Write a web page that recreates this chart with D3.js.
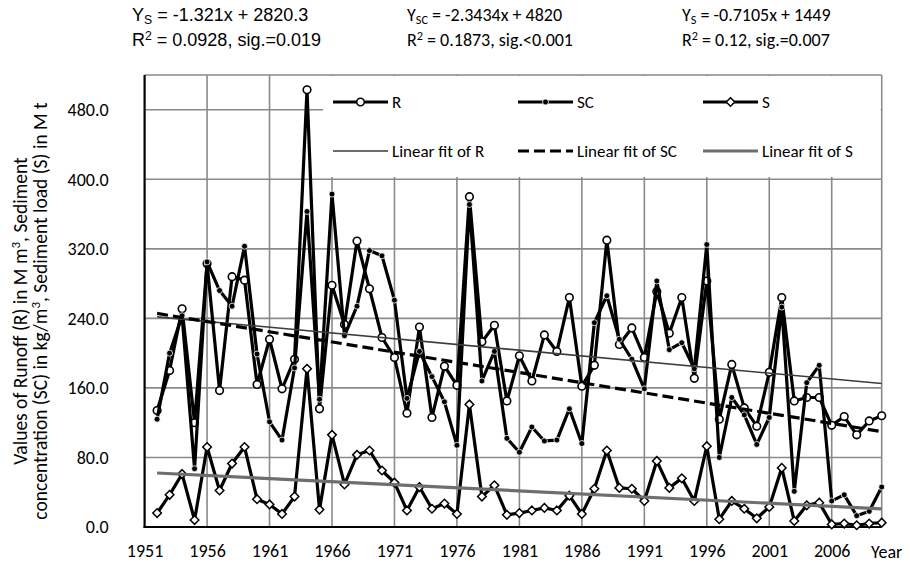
<!DOCTYPE html>
<html>
<head>
<meta charset="utf-8">
<script src="https://cdn.jsdelivr.net/npm/d3@7"></script>
<style>
  body { margin: 0; background: #fff; }
  svg text { fill: #000; }
  .cal { font-family: Carlito, Calibri, Lato, sans-serif; }
</style>
</head>
<body>
<svg id="chart" width="914" height="565"></svg>
<script>
// years 1952 - 2010
var years = [1952, 1953, 1954, 1955, 1956, 1957, 1958, 1959, 1960, 1961,
    1962, 1963, 1964, 1965, 1966, 1967, 1968, 1969, 1970, 1971,
    1972, 1973, 1974, 1975, 1976, 1977, 1978, 1979, 1980, 1981,
    1982, 1983, 1984, 1985, 1986, 1987, 1988, 1989, 1990, 1991,
    1992, 1993, 1994, 1995, 1996, 1997, 1998, 1999, 2000, 2001,
    2002, 2003, 2004, 2005, 2006, 2007, 2008, 2009, 2010];

// runoff R (M m3)
var runoff = [134, 180, 251, 120, 303, 157, 288, 284, 164, 216,
    159, 193, 503, 136, 278, 233, 329, 274, 218, 195,
    131, 230, 126, 185, 163, 380, 213, 232, 145, 197,
    168, 221, 202, 264, 162, 186, 330, 210, 229, 195,
    271, 223, 264, 171, 283, 124, 187, 137, 116, 178,
    264, 145, 149, 149, 117, 127, 106, 122, 128];

// sediment concentration SC (kg/m3)
var sedConc = [124, 200, 243, 67, 305, 272, 254, 323, 199, 121,
    100, 183, 363, 147, 383, 220, 254, 318, 312, 261,
    148, 202, 173, 144, 94, 371, 168, 202, 102, 86,
    115, 99, 100, 136, 96, 235, 266, 216, 193, 159,
    283, 204, 212, 182, 325, 80, 149, 129, 95, 126,
    253, 41, 166, 186, 30, 37, 13, 18, 46];

// sediment load S (M t)
var sedLoad = [16, 37, 61, 8, 92, 42, 73, 92, 32, 26,
    15, 35, 182, 20, 106, 49, 83, 88, 65, 51,
    19, 46, 21, 27, 15, 141, 35, 48, 14, 16,
    19, 22, 19, 36, 15, 44, 88, 45, 44, 30,
    76, 45, 56, 30, 93, 9, 30, 21, 10, 23,
    68, 7, 25, 28, 3, 4, 2, 4, 5];

// linear fits shown in the header: slope, intercept
var fitSlopes = [-1.321, -2.3434, -0.7105];
var fitIntercepts = [2820.3, 4820, 1449];

var yTicks = [0, 80, 160, 240, 320, 400, 480];
var xTicks = [1951, 1956, 1961, 1966, 1971, 1976, 1981, 1986, 1991, 1996, 2001, 2006];

var svg = d3.select("#chart");

var plotL = 144.6, plotR = 881.7, plotT = 75, plotB = 527;
var fs = "18px";

var xScale = d3.scaleLinear().domain([1951, 2010]).range([plotL, plotR]);
var yScale = d3.scaleLinear().domain([0, 520]).range([plotB, plotT]);

// grid
var grid = svg.append("g").attr("stroke", "#8a8a8a").attr("stroke-width", 1.6);
grid.selectAll(".hg")
    .data(yTicks.slice(1).concat([520]))
    .enter().append("line")
    .attr("x1", plotL).attr("x2", plotR)
    .attr("y1", function (d) { return yScale(d); })
    .attr("y2", function (d) { return yScale(d); });
grid.selectAll(".vg")
    .data(xTicks.slice(1).concat([2010]))
    .enter().append("line")
    .attr("y1", plotT).attr("y2", plotB)
    .attr("x1", function (d) { return xScale(d); })
    .attr("x2", function (d) { return xScale(d); });

// legend background covers the grid
var lgX = 323, lgY = 76;
svg.append("rect")
    .attr("x", lgX).attr("y", lgY)
    .attr("width", plotR - lgX - 1).attr("height", 101)
    .attr("fill", "#fff");

// axes
var yAxis = svg.append("g")
    .attr("transform", "translate(" + plotL + ",0)")
    .call(d3.axisLeft(yScale).tickValues(yTicks).tickSize(0).tickPadding(36)
        .tickFormat(d3.format(".1f")));
var xAxis = svg.append("g")
    .attr("transform", "translate(0," + plotB + ")")
    .call(d3.axisBottom(xScale).tickValues(xTicks).tickSize(0).tickPadding(17)
        .tickFormat(d3.format("d")));
[yAxis, xAxis].forEach(function (ax) {
    ax.select(".domain").remove();
    ax.selectAll("text")
        .attr("class", "cal")
        .style("font-size", fs)
        .style("fill", "#000");
});
svg.append("text")
    .attr("class", "cal")
    .attr("x", 871).attr("y", 558)
    .style("font-size", fs)
    .text("Year");

svg.append("line")
    .attr("x1", plotL).attr("x2", plotL).attr("y1", plotT).attr("y2", plotB + 1)
    .attr("stroke", "#000").attr("stroke-width", 2.2);
svg.append("line")
    .attr("x1", plotL - 1).attr("x2", plotR).attr("y1", plotB).attr("y2", plotB)
    .attr("stroke", "#000").attr("stroke-width", 2.2);

// axis title
var yTitle = svg.append("g").attr("transform", "translate(0,311) rotate(-90)");
var t1 = yTitle.append("text").attr("class", "cal").attr("x", 0).attr("y", 27)
    .attr("text-anchor", "middle").style("font-size", "19.5px");
t1.append("tspan").text("Values of Runoff  (R) in M m");
t1.append("tspan").attr("dy", -7).style("font-size", "13px").text("3");
t1.append("tspan").attr("dy", 7).text(", Sediment");
var t2 = yTitle.append("text").attr("class", "cal").attr("x", 0).attr("y", 47)
    .attr("text-anchor", "middle").style("font-size", "19.5px");
t2.append("tspan").text("concentration (SC) in kg/m");
t2.append("tspan").attr("dy", -7).style("font-size", "13px").text("3");
t2.append("tspan").attr("dy", 7).text(", Sediment load  (S) in M t");

// series
function pts(vals) {
    return years.map(function (y, i) { return [y, vals[i]]; });
}
var line = d3.line()
    .x(function (d) { return xScale(d[0]); })
    .y(function (d) { return yScale(d[1]); });

function drawSeries(vals) {
    svg.append("path")
        .datum(pts(vals))
        .attr("fill", "none")
        .attr("stroke", "#000")
        .attr("stroke-width", 3.2)
        .attr("stroke-linejoin", "round")
        .attr("d", line);
}

function circleMark(g, x, y) {
    g.append("circle").attr("cx", x).attr("cy", y).attr("r", 3.8)
        .attr("fill", "#fff").attr("stroke", "#000").attr("stroke-width", 1.6);
}
function dotMark(g, x, y) {
    g.append("circle").attr("cx", x).attr("cy", y).attr("r", 3)
        .attr("fill", "#000").attr("stroke", "#fff").attr("stroke-width", 0.8);
}
function diamondMark(g, x, y) {
    g.append("path")
        .attr("d", "M" + x + "," + (y - 4.3) + "L" + (x + 4.3) + "," + y +
            "L" + x + "," + (y + 4.3) + "L" + (x - 4.3) + "," + y + "Z")
        .attr("fill", "#fff").attr("stroke", "#000").attr("stroke-width", 1.5);
}

drawSeries(runoff);
var mR = svg.append("g");
pts(runoff).forEach(function (d) { circleMark(mR, xScale(d[0]), yScale(d[1])); });
drawSeries(sedConc);
var mSC = svg.append("g");
pts(sedConc).forEach(function (d) { dotMark(mSC, xScale(d[0]), yScale(d[1])); });
drawSeries(sedLoad);
var mS = svg.append("g");
pts(sedLoad).forEach(function (d) { diamondMark(mS, xScale(d[0]), yScale(d[1])); });

// linear fits
var fitStyles = [
    { color: "#3c3c3c", width: 1.6, dash: null },
    { color: "#000", width: 3.2, dash: "11,5" },
    { color: "#6e6e6e", width: 3.2, dash: null }
];
var yrFirst = years[0], yrLast = years[years.length - 1];
fitSlopes.forEach(function (a, i) {
    var b = fitIntercepts[i];
    svg.append("line")
        .attr("x1", xScale(yrFirst)).attr("y1", yScale(a * yrFirst + b))
        .attr("x2", xScale(yrLast)).attr("y2", yScale(a * yrLast + b))
        .attr("stroke", fitStyles[i].color)
        .attr("stroke-width", fitStyles[i].width)
        .attr("stroke-dasharray", fitStyles[i].dash);
});

// legend
var legendNames = ["R", "SC", "S"];
var legendFits = ["Linear fit of R", "Linear fit of SC", "Linear fit of S"];
var legendX = [333, 518, 703];
var markFns = [circleMark, dotMark, diamondMark];
var lg = svg.append("g");
legendNames.forEach(function (n, i) {
    var x0 = legendX[i];
    lg.append("line").attr("x1", x0).attr("x2", x0 + 55).attr("y1", 102).attr("y2", 102)
        .attr("stroke", "#000").attr("stroke-width", 3.2);
    markFns[i](lg, x0 + 27.5, 102);
    lg.append("text").attr("class", "cal").attr("x", x0 + 59).attr("y", 102).attr("dy", "0.35em")
        .style("font-size", "17px").text(n);

    lg.append("line").attr("x1", x0).attr("x2", x0 + 55).attr("y1", 151).attr("y2", 151)
        .attr("stroke", fitStyles[i].color).attr("stroke-width", fitStyles[i].width)
        .attr("stroke-dasharray", fitStyles[i].dash);
    lg.append("text").attr("class", "cal").attr("x", x0 + 59).attr("y", 151).attr("dy", "0.35em")
        .style("font-size", "17px").text(legendFits[i]);
});

// header equations
var eqs = [
    { x: 132, sub: "S", eq: " = -1.321x + 2820.3", r2: " = 0.0928, sig.=0.019", font: "'Liberation Sans', Arial, sans-serif", size: 18 },
    { x: 407, sub: "SC", eq: " = -2.3434x + 4820", r2: " = 0.1873, sig.<0.001", font: "Carlito, Calibri, Lato, sans-serif", size: 18 },
    { x: 682, sub: "S", eq: " = -0.7105x + 1449", r2: " = 0.12, sig.=0.007", font: "Carlito, Calibri, Lato, sans-serif", size: 18 }
];
eqs.forEach(function (e) {
    var l1 = svg.append("text").attr("x", e.x).attr("y", 21)
        .style("font-family", e.font).style("font-size", e.size + "px");
    l1.append("tspan").text("Y");
    l1.append("tspan").attr("dy", 3).style("font-size", (e.size * 0.68) + "px").text(e.sub);
    l1.append("tspan").attr("dy", -3).text(e.eq);
    var l2 = svg.append("text").attr("x", e.x).attr("y", 46)
        .style("font-family", e.font).style("font-size", e.size + "px");
    l2.append("tspan").text("R");
    l2.append("tspan").attr("dy", -6).style("font-size", (e.size * 0.68) + "px").text("2");
    l2.append("tspan").attr("dy", 6).text(e.r2);
});
</script>
</body>
</html>
